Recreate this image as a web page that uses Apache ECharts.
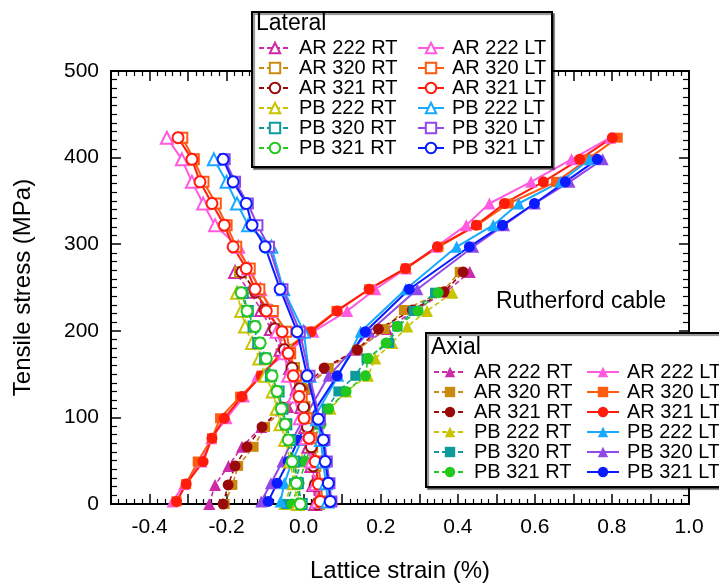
<!DOCTYPE html>
<html><head><meta charset="utf-8">
<script src="https://cdn.jsdelivr.net/npm/echarts@6/dist/echarts.min.js"></script>
<style>html,body{margin:0;padding:0;background:#fff}#c{width:719px;height:588px}</style>
</head><body><div id="c"></div>
<script>
// ---------- stress levels (MPa) ----------
const S_AR_LT = [3, 23, 49, 76, 99, 124, 148, 174, 199, 223, 248, 272, 297, 322, 347, 372, 398, 423];
const S_PB_LT = [3, 24, 49, 74, 98, 148, 199, 248, 297, 322, 347, 372, 398];
const S_AR_RT = [0, 22, 44, 66, 89, 112, 133, 157, 178, 202, 224, 245, 268];
const S_PB_RT = [0, 24, 49, 74, 92, 110, 130, 148, 168, 186, 205, 223, 244];

// ---------- axial lattice strain (%) ----------
const ax_AR222_RT = [-0.245, -0.23, -0.195, -0.16, -0.11, -0.04, 0.005, 0.06, 0.135, 0.216, 0.29, 0.37, 0.431];
const ax_AR320_RT = [-0.205, -0.185, -0.17, -0.13, -0.1, -0.05, 0.005, 0.065, 0.14, 0.21, 0.26, 0.36, 0.405];
const ax_AR321_RT = [-0.209, -0.196, -0.178, -0.147, -0.108, -0.056, -0.004, 0.053, 0.139, 0.194, 0.282, 0.365, 0.414];
const ax_PB222_RT = [-0.05, -0.03, -0.01, 0.01, 0.035, 0.07, 0.11, 0.167, 0.186, 0.23, 0.269, 0.32, 0.386];
const ax_PB320_RT = [-0.045, -0.025, -0.005, 0.02, 0.04, 0.06, 0.09, 0.134, 0.163, 0.222, 0.243, 0.285, 0.341];
const ax_PB321_RT = [-0.03, -0.012, 0.005, 0.025, 0.045, 0.065, 0.11, 0.16, 0.167, 0.214, 0.243, 0.297, 0.349];
const ax_AR222_LT = [-0.34, -0.31, -0.265, -0.24, -0.2, -0.155, -0.12, -0.045, 0.025, 0.113, 0.186, 0.266, 0.344, 0.422, 0.482, 0.59, 0.695, 0.796];
const ax_AR320_LT = [-0.33, -0.305, -0.275, -0.238, -0.217, -0.165, -0.11, -0.06, 0.015, 0.085, 0.17, 0.265, 0.35, 0.45, 0.532, 0.655, 0.737, 0.815];
const ax_AR321_LT = [-0.33, -0.305, -0.261, -0.238, -0.206, -0.16, -0.11, -0.056, 0.019, 0.087, 0.17, 0.264, 0.347, 0.448, 0.521, 0.622, 0.716, 0.801];
const ax_PB222_LT = [-0.06, -0.05, -0.03, -0.005, 0.025, 0.09, 0.148, 0.265, 0.397, 0.492, 0.558, 0.666, 0.742];
const ax_PB320_LT = [-0.11, -0.085, -0.055, -0.03, 0.0, 0.065, 0.17, 0.295, 0.44, 0.52, 0.6, 0.69, 0.776];
const ax_PB321_LT = [-0.092, -0.069, -0.04, -0.014, 0.014, 0.087, 0.16, 0.274, 0.43, 0.516, 0.599, 0.679, 0.762];

// ---------- lateral lattice strain (%) ----------
const lat_AR222_RT = [0.03, 0.025, 0.02, 0.012, 0.004, -0.006, -0.018, -0.035, -0.06, -0.085, -0.11, -0.14, -0.178];
const lat_AR320_RT = [0.04, 0.035, 0.03, 0.022, 0.012, 0.002, -0.008, -0.025, -0.045, -0.07, -0.095, -0.12, -0.165];
const lat_AR321_RT = [0.035, 0.03, 0.025, 0.02, 0.01, 0.0, -0.01, -0.03, -0.05, -0.075, -0.1, -0.125, -0.16];
const lat_PB222_RT = [-0.015, -0.025, -0.035, -0.048, -0.06, -0.07, -0.08, -0.1, -0.115, -0.134, -0.152, -0.162, -0.173];
const lat_PB320_RT = [-0.005, -0.015, -0.025, -0.035, -0.045, -0.055, -0.065, -0.085, -0.1, -0.118, -0.13, -0.145, -0.158];
const lat_PB321_RT = [-0.009, -0.019, -0.03, -0.04, -0.048, -0.058, -0.069, -0.082, -0.097, -0.113, -0.126, -0.147, -0.162];
const lat_AR222_LT = [0.035, 0.03, 0.02, 0.005, -0.01, -0.025, -0.04, -0.05, -0.07, -0.085, -0.113, -0.144, -0.17, -0.23, -0.261, -0.29, -0.316, -0.355];
const lat_AR320_LT = [0.048, 0.045, 0.036, 0.02, 0.008, -0.005, -0.02, -0.035, -0.045, -0.08, -0.115, -0.14, -0.175, -0.2, -0.228, -0.26, -0.285, -0.315];
const lat_AR321_LT = [0.043, 0.038, 0.03, 0.014, 0.001, -0.012, -0.027, -0.04, -0.056, -0.097, -0.126, -0.149, -0.183, -0.206, -0.238, -0.269, -0.29, -0.326];
const lat_PB222_LT = [0.062, 0.058, 0.05, 0.045, 0.035, 0.015, 0.0, -0.053, -0.084, -0.144, -0.173, -0.2, -0.233];
const lat_PB320_LT = [0.072, 0.067, 0.06, 0.054, 0.042, 0.015, -0.01, -0.055, -0.09, -0.12, -0.145, -0.178, -0.205];
const lat_PB321_LT = [0.069, 0.064, 0.056, 0.051, 0.038, 0.009, -0.017, -0.061, -0.1, -0.134, -0.149, -0.183, -0.209];

const xTicks = [-0.4, -0.2, 0.0, 0.2, 0.4, 0.6, 0.8, 1.0];
const yTicks = [0, 100, 200, 300, 400, 500];

const FONT = "'Liberation Sans', Arial, Helvetica, sans-serif";
const C = {
  AR222RT: '#cc2aa8', AR320RT: '#c98a10', AR321RT: '#9a0a0a',
  PB222RT: '#c8c400', PB320RT: '#0c9a9a', PB321RT: '#22c81e',
  AR222LT: '#ff5ae0', AR320LT: '#ff5a10', AR321LT: '#ff1c0c',
  PB222LT: '#18aaff', PB320LT: '#9048e8', PB321LT: '#0a1cff'
};

function mk(name, xs, ys, color, symbol, dashed, open) {
  return {
    name: name, type: 'line',
    data: xs.map((x, i) => [x, ys[i]]),
    symbol: (open ? 'empty' + symbol[0].toUpperCase() + symbol.slice(1) : symbol),
    symbolSize: symbol === 'triangle' ? 12 : (symbol === 'rect' ? 10 : 11),
    itemStyle: { color: color, borderColor: color, borderWidth: open ? 1.5 : 0 },
    lineStyle: { color: color, width: dashed ? 1.6 : 2, type: dashed ? [5, 3] : 'solid' },
    z: open ? 3 : 2,
    animation: false
  };
}

const series = [
  // axial (filled)
  mk('AR 222 RT|a', ax_AR222_RT, S_AR_RT, C.AR222RT, 'triangle', true, false),
  mk('AR 320 RT|a', ax_AR320_RT, S_AR_RT, C.AR320RT, 'rect', true, false),
  mk('AR 321 RT|a', ax_AR321_RT, S_AR_RT, C.AR321RT, 'circle', true, false),
  mk('PB 222 RT|a', ax_PB222_RT, S_PB_RT, C.PB222RT, 'triangle', true, false),
  mk('PB 320 RT|a', ax_PB320_RT, S_PB_RT, C.PB320RT, 'rect', true, false),
  mk('PB 321 RT|a', ax_PB321_RT, S_PB_RT, C.PB321RT, 'circle', true, false),
  mk('AR 222 LT|a', ax_AR222_LT, S_AR_LT, C.AR222LT, 'triangle', false, false),
  mk('AR 320 LT|a', ax_AR320_LT, S_AR_LT, C.AR320LT, 'rect', false, false),
  mk('AR 321 LT|a', ax_AR321_LT, S_AR_LT, C.AR321LT, 'circle', false, false),
  mk('PB 222 LT|a', ax_PB222_LT, S_PB_LT, C.PB222LT, 'triangle', false, false),
  mk('PB 320 LT|a', ax_PB320_LT, S_PB_LT, C.PB320LT, 'triangle', false, false),
  mk('PB 321 LT|a', ax_PB321_LT, S_PB_LT, C.PB321LT, 'circle', false, false),
  // lateral (open)
  mk('AR 222 RT|l', lat_AR222_RT, S_AR_RT, C.AR222RT, 'triangle', true, true),
  mk('AR 320 RT|l', lat_AR320_RT, S_AR_RT, C.AR320RT, 'rect', true, true),
  mk('AR 321 RT|l', lat_AR321_RT, S_AR_RT, C.AR321RT, 'circle', true, true),
  mk('PB 222 RT|l', lat_PB222_RT, S_PB_RT, C.PB222RT, 'triangle', true, true),
  mk('PB 320 RT|l', lat_PB320_RT, S_PB_RT, C.PB320RT, 'rect', true, true),
  mk('PB 321 RT|l', lat_PB321_RT, S_PB_RT, C.PB321RT, 'circle', true, true),
  mk('AR 222 LT|l', lat_AR222_LT, S_AR_LT, C.AR222LT, 'triangle', false, true),
  mk('AR 320 LT|l', lat_AR320_LT, S_AR_LT, C.AR320LT, 'rect', false, true),
  mk('AR 321 LT|l', lat_AR321_LT, S_AR_LT, C.AR321LT, 'circle', false, true),
  mk('PB 222 LT|l', lat_PB222_LT, S_PB_LT, C.PB222LT, 'triangle', false, true),
  mk('PB 320 LT|l', lat_PB320_LT, S_PB_LT, C.PB320LT, 'rect', false, true),
  mk('PB 321 LT|l', lat_PB321_LT, S_PB_LT, C.PB321LT, 'circle', false, true)
];

const names = series.map(s => s.name);
const pick = (suffix, kind) => names.filter(n => n.endsWith('|' + suffix) && n.indexOf(kind) >= 0);

function legend(data, left, top, lh, iw) {
  return {
    data: data, left: left, top: top, orient: 'vertical', padding: 0,
    itemWidth: iw, itemHeight: 13, itemGap: 0, selectedMode: false, z: 60,
    formatter: n => n.split('|')[0],
    textStyle: { fontFamily: FONT, fontSize: 20, color: '#000', lineHeight: lh, height: lh, padding: [0, 0, 0, 3] }
  };
}

const xAxisBase = {
  type: 'value', min: -0.5, max: 1.0, interval: 0.1,
  axisLine: { show: true, onZero: false, lineStyle: { color: '#000', width: 2 } },
  axisTick: { show: true, inside: true, length: 10, lineStyle: { color: '#000', width: 1.5 } },
  minorTick: { show: true, splitNumber: 5, length: 5, lineStyle: { color: '#000', width: 1.2 } },
  splitLine: { show: false }
};
const yAxisBase = {
  type: 'value', min: 0, max: 500, interval: 100,
  axisLine: { show: true, onZero: false, lineStyle: { color: '#000', width: 2 } },
  axisTick: { show: true, inside: true, length: 10, lineStyle: { color: '#000', width: 1.5 } },
  minorTick: { show: true, splitNumber: 10, length: 6, lineStyle: { color: '#000', width: 1.2 } },
  splitLine: { show: false }
};

const option = {
  backgroundColor: '#fff',
  animation: false,
  grid: { left: 111, right: 30, top: 71, bottom: 82 },
  xAxis: [
    Object.assign({}, xAxisBase, {
      position: 'bottom',
      name: 'Lattice strain (%)', nameLocation: 'middle', nameGap: 55,
      nameTextStyle: { fontFamily: FONT, fontSize: 24, color: '#000' },
      axisLabel: {
        show: true, margin: 13, fontFamily: FONT, fontSize: 21, color: '#000',
        formatter: v => {
          const t = Math.round(v * 10) / 10;
          return xTicks.some(k => Math.abs(k - t) < 1e-6) ? t.toFixed(1) : '';
        }
      }
    }),
    Object.assign({}, xAxisBase, { position: 'top', axisLabel: { show: false } })
  ],
  yAxis: [
    Object.assign({}, yAxisBase, {
      position: 'left',
      name: 'Tensile stress (MPa)', nameLocation: 'middle', nameGap: 76,
      nameTextStyle: { fontFamily: FONT, fontSize: 24, color: '#000' },
      axisLabel: {
        show: true, margin: 12, fontFamily: FONT, fontSize: 21, color: '#000',
        formatter: v => (yTicks.indexOf(v) >= 0 ? String(v) : '')
      }
    }),
    Object.assign({}, yAxisBase, { position: 'right', axisLabel: { show: false } })
  ],
  legend: [
    legend(pick('l', 'RT'), 258, 38, 20, 32),
    legend(pick('l', 'LT'), 417, 38, 20, 26),
    legend(pick('a', 'RT'), 433, 362, 19.6, 32),
    legend(pick('a', 'LT'), 586, 362, 19.6, 32)
  ],
  graphic: [
    { type: 'rect', z: 50, shape: { x: 252, y: 12, width: 300, height: 155 },
      style: { fill: '#fff', stroke: '#000', lineWidth: 2, shadowColor: 'rgba(0,0,0,0.45)', shadowOffsetX: 2, shadowOffsetY: 2, shadowBlur: 1 } },
    { type: 'text', z: 55, left: 256, top: 12, style: { text: 'Lateral', font: '23px ' + FONT, fill: '#000' } },
    { type: 'rect', z: 50, shape: { x: 426, y: 333, width: 310, height: 154 },
      style: { fill: '#fff', stroke: '#000', lineWidth: 2, shadowColor: 'rgba(0,0,0,0.45)', shadowOffsetX: 2, shadowOffsetY: 2, shadowBlur: 1 } },
    { type: 'text', z: 55, left: 431, top: 336, style: { text: 'Axial', font: '23px ' + FONT, fill: '#000' } },
    { type: 'text', z: 55, left: 496, top: 290, style: { text: 'Rutherford cable', font: '23px ' + FONT, fill: '#000' } }
  ],
  series: series.map(s => Object.assign(s, { xAxisIndex: 0, yAxisIndex: 0 }))
};

const chart = echarts.init(document.getElementById('c'), null, { renderer: 'canvas' });
chart.setOption(option);
</script>
</body></html>
